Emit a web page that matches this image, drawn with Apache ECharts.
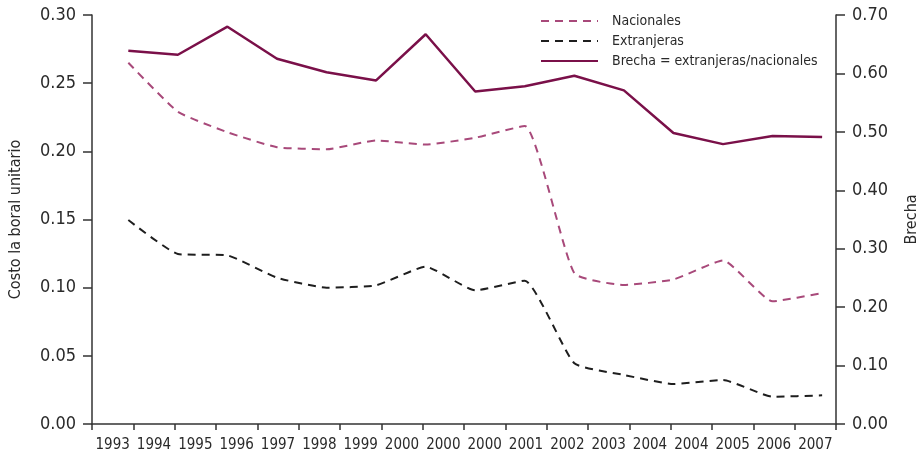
<!DOCTYPE html>
<html>
<head>
<meta charset="utf-8">
<script src="https://cdn.jsdelivr.net/npm/echarts@6/dist/echarts.min.js"></script>
<style>
html,body{margin:0;padding:0;background:#fff;}
#chart{width:923px;height:460px;}
</style>
</head>
<body>
<div id="chart"></div>
<script>
// Tick labels shown on the category axis (as printed in the original)
const tickLabels = ['1993','1994','1995','1996','1997','1998','1999','2000','2000','2000','2001','2002','2003','2004','2004','2005','2006','2007'];
// Years of the data points
const years = [1993,1994,1995,1996,1997,1998,1999,2000,2001,2002,2003,2004,2005,2006,2007];
// Series values
const nacionales  = [0.265,0.229,0.214,0.203,0.2015,0.208,0.205,0.210,0.2186,0.1105,0.102,0.106,0.120,0.090,0.096];
const extranjeras = [0.1496,0.1247,0.1237,0.1073,0.100,0.1017,0.1154,0.098,0.1051,0.0445,0.036,0.0293,0.0323,0.020,0.021];
const brecha      = [0.639,0.632,0.680,0.625,0.602,0.588,0.667,0.569,0.578,0.596,0.571,0.498,0.479,0.493,0.491];

const FONT = '"DejaVu Sans Condensed", "DejaVu Sans", sans-serif';
const TXT = '#2a2a2a';
const AX = '#333333';

const pairs = arr => years.map((y, i) => [y, arr[i]]);

const chart = echarts.init(document.getElementById('chart'), null, {renderer: 'canvas'});
chart.setOption({
  animation: false,
  backgroundColor: '#ffffff',
  textStyle: {fontFamily: FONT, color: TXT},
  grid: {left: 92, right: 87, top: 15, bottom: 36, containLabel: false, outerBoundsMode: 'none'},
  legend: {
    orient: 'vertical',
    left: 535,
    top: 9,
    itemWidth: 57,
    itemHeight: 14,
    itemGap: 6,
    itemStyle: {opacity: 0},
    textStyle: {fontFamily: FONT, fontSize: 14, color: TXT, padding: [0, 0, 0, 9]},
    data: ['Nacionales', 'Extranjeras', 'Brecha = extranjeras/nacionales']
  },
  xAxis: [
    {
      type: 'category',
      data: tickLabels,
      boundaryGap: true,
      position: 'bottom',
      axisLine: {lineStyle: {color: AX, width: 1.5}},
      axisTick: {show: true, length: 6, lineStyle: {color: AX, width: 1.5}},
      axisLabel: {fontFamily: FONT, fontSize: 15, color: TXT, margin: 14, interval: 0},
      splitLine: {show: false}
    },
    {
      type: 'value',
      min: 1992.267,
      max: 2007.28,
      show: false,
      splitLine: {show: false}
    }
  ],
  yAxis: [
    {
      type: 'value',
      min: 0, max: 0.30, interval: 0.05,
      position: 'left',
      name: 'Costo la boral unitario',
      nameLocation: 'middle',
      nameGap: 68,
      nameTextStyle: {fontFamily: FONT, fontSize: 16, color: TXT},
      axisLine: {show: true, lineStyle: {color: AX, width: 1.5}},
      axisTick: {show: true, length: 9, lineStyle: {color: AX, width: 1.5}},
      axisLabel: {fontFamily: FONT, fontSize: 18, color: TXT, margin: 16, formatter: v => v.toFixed(2)},
      splitLine: {show: false}
    },
    {
      type: 'value',
      min: 0, max: 0.70, interval: 0.10,
      position: 'right',
      name: 'Brecha',
      nameLocation: 'middle',
      nameGap: 68,
      nameTextStyle: {fontFamily: FONT, fontSize: 16, color: TXT},
      axisLine: {show: true, lineStyle: {color: AX, width: 1.5}},
      axisTick: {show: true, length: 9, lineStyle: {color: AX, width: 1.5}},
      axisLabel: {fontFamily: FONT, fontSize: 18, color: TXT, margin: 16, formatter: v => v.toFixed(2)},
      splitLine: {show: false}
    }
  ],
  series: [
    {
      name: 'Nacionales',
      type: 'line',
      xAxisIndex: 1, yAxisIndex: 0,
      data: pairs(nacionales),
      symbol: 'none',
      smooth: 0.15,
      color: '#a8497a',
      lineStyle: {color: '#a8497a', width: 2, type: [8, 6]}
    },
    {
      name: 'Extranjeras',
      type: 'line',
      xAxisIndex: 1, yAxisIndex: 0,
      data: pairs(extranjeras),
      symbol: 'none',
      smooth: 0.15,
      color: '#1e1e1e',
      lineStyle: {color: '#1e1e1e', width: 2, type: [8, 6]}
    },
    {
      name: 'Brecha = extranjeras/nacionales',
      type: 'line',
      xAxisIndex: 1, yAxisIndex: 1,
      data: pairs(brecha),
      symbol: 'none',
      color: '#7a1049',
      lineStyle: {color: '#7a1049', width: 2.5}
    }
  ]
});
</script>
</body>
</html>
